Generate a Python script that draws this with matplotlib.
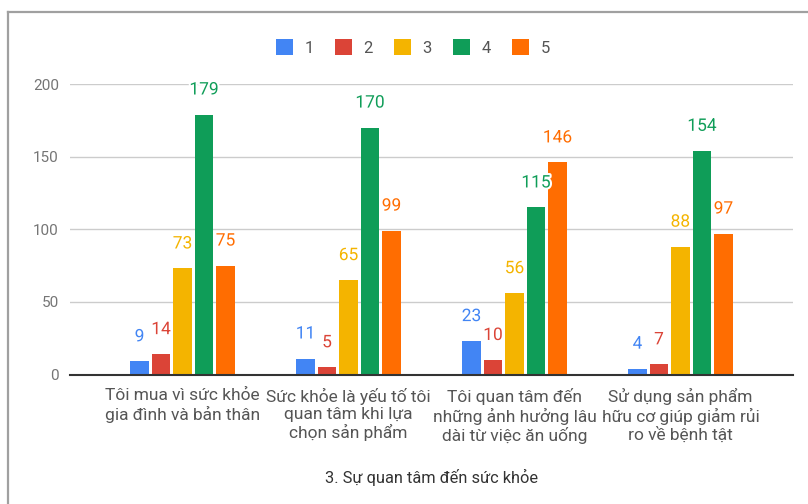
import matplotlib
matplotlib.use("Agg")
import matplotlib.pyplot as plt
import matplotlib.patheffects as pe
from matplotlib.lines import Line2D
from matplotlib.patches import Patch
import numpy as np

plt.rcParams['font.family'] = ['Roboto', 'DejaVu Sans']

categories = [
    "Tôi mua vì sức khỏe\ngia đình và bản thân",
    "Sức khỏe là yếu tố tôi\nquan tâm khi lựa\nchọn sản phẩm",
    "Tôi quan tâm đến\nnhững ảnh hưởng lâu\ndài từ việc ăn uống",
    "Sử dụng sản phẩm\nhữu cơ giúp giảm rủi\nro về bệnh tật",
]
series_names = ["1", "2", "3", "4", "5"]
s1 = [9, 11, 23, 4]
s2 = [14, 5, 10, 7]
s3 = [73, 65, 56, 88]
s4 = [179, 170, 115, 154]
s5 = [75, 99, 146, 97]
series = [s1, s2, s3, s4, s5]
colors = ["#4285F4", "#DB4437", "#F4B400", "#0F9D58", "#FF6D01"]
yticks = [0, 50, 100, 150, 200]
title = "3. Sự quan tâm đến sức khỏe"

W, H = 808, 504
fig = plt.figure(figsize=(W / 100, H / 100), dpi=100)
ax = fig.add_axes([70 / W, 1 - 374.5 / H, (793 - 70) / W, (374.5 - 84) / H])

x = np.arange(len(categories))
step = 0.1295
width = 0.114
for i, (vals, c) in enumerate(zip(series, colors)):
    pos = x + (i - 2) * step
    ax.bar(pos, vals, width=width, color=c, zorder=3)
    for p, v in zip(pos, vals):
        ax.annotate(str(v), (p, v), xytext=(0, 14.4), textcoords="offset points",
                    ha="center", va="baseline", fontsize=12.5, color=c, zorder=5,
                    path_effects=[pe.withStroke(linewidth=3, foreground="white")])

ax.set_xlim(-0.5 - 0.178, len(categories) - 0.5 + 0.178)
ax.set_ylim(0, 200)
ax.set_yticks(yticks)
ax.set_yticklabels([str(t) for t in yticks])
ax.set_xticks(x)
ax.set_xticklabels(categories, linespacing=1.15)
ax.tick_params(axis="y", length=0, pad=8, labelsize=11, labelcolor="#757575")
ax.tick_params(axis="x", length=0, pad=10, labelsize=12.5, labelcolor="#555555")
ax.grid(axis="y", color="#cccccc", linewidth=1, zorder=0)
for s in ["top", "right", "left"]:
    ax.spines[s].set_visible(False)
ax.spines["bottom"].set_color("#333333")
ax.spines["bottom"].set_linewidth(1.5)
ax.spines["bottom"].set_zorder(4)

handles = [Patch(facecolor=c, label=n) for c, n in zip(colors, series_names)]
fig.legend(handles=handles, loc="center", bbox_to_anchor=(413 / W, 1 - 47.5 / H),
           ncol=5, frameon=False, fontsize=12, handlelength=1.0, handleheight=1.05,
           handletextpad=0.72, columnspacing=1.26, labelcolor="#555555")

fig.text(432 / W, 1 - 483 / H, title, ha="center", va="baseline", fontsize=11.8, color="#333333")

fig.add_artist(Line2D([8 / W, 8 / W], [0, 1 - 12 / H], color="#a0a0a0", linewidth=1.6,
                      transform=fig.transFigure))
fig.add_artist(Line2D([8 / W, 1], [1 - 12 / H, 1 - 12 / H], color="#a0a0a0", linewidth=1.6,
                      transform=fig.transFigure))

fig.savefig("out.png", dpi=100, facecolor="white")
